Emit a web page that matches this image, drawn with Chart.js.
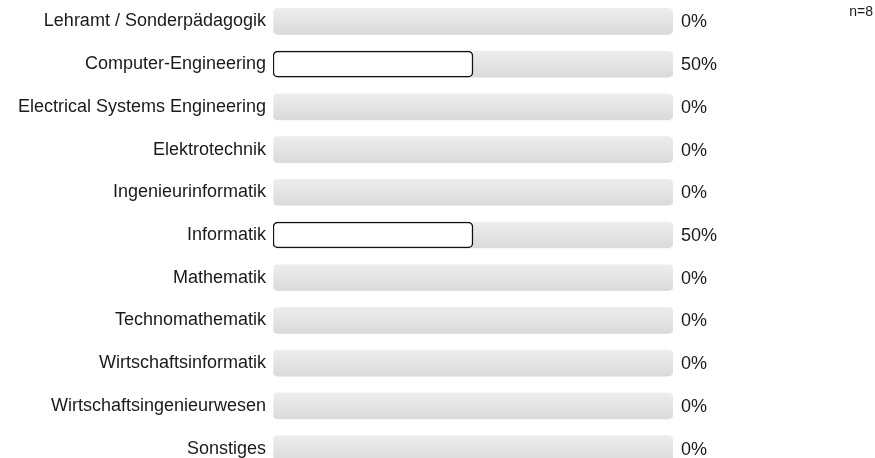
<!DOCTYPE html>
<html>
<head>
<meta charset="utf-8">
<script src="https://cdn.jsdelivr.net/npm/chart.js@4"></script>
<style>
    html, body { margin: 0; padding: 0; background: #fff; overflow: hidden; }
    #wrap { width: 875px; height: 458px; overflow: hidden; }
    #box { position: relative; width: 875px; height: 470px; }
</style>
</head>
<body>
<div id="wrap"><div id="box"><canvas id="chart"></canvas></div></div>
<script>
const categories = [
    'Lehramt / Sonderpädagogik',
    'Computer-Engineering',
    'Electrical Systems Engineering',
    'Elektrotechnik',
    'Ingenieurinformatik',
    'Informatik',
    'Mathematik',
    'Technomathematik',
    'Wirtschaftsinformatik',
    'Wirtschaftsingenieurwesen',
    'Sonstiges'
];
const percentValues = [0, 50, 0, 0, 0, 50, 0, 0, 0, 0, 0];
const trackValues = [100, 100, 100, 100, 100, 100, 100, 100, 100, 100, 100];
const sampleLabel = 'n=8';

const fontFamily = '"Liberation Sans", Arial, Helvetica, sans-serif';

// grey track with a soft vertical gradient
function trackColor(ctx) {
    const chart = ctx.chart;
    const y = chart.scales && chart.scales.y;
    if (!y || ctx.dataIndex === undefined) return '#e3e3e3';
    const mid = y.getPixelForValue(ctx.dataIndex);
    if (!isFinite(mid)) return '#e3e3e3';
    const g = chart.ctx.createLinearGradient(0, mid - 13, 0, mid + 13);
    g.addColorStop(0, '#ededed');
    g.addColorStop(1, '#dadada');
    return g;
}

const valueLabels = {
    id: 'valueLabels',
    afterDatasetsDraw(chart) {
        const ctx = chart.ctx;
        const area = chart.chartArea;
        const y = chart.scales.y;
        ctx.save();
        ctx.fillStyle = '#1a1a1a';
        ctx.font = '18px ' + fontFamily;
        ctx.textAlign = 'left';
        ctx.textBaseline = 'middle';
        percentValues.forEach((v, i) => {
            ctx.fillText(v + '%', area.right + 8, y.getPixelForValue(i) + 1);
        });
        ctx.font = '14px ' + fontFamily;
        ctx.textAlign = 'right';
        ctx.fillText(sampleLabel, 873, 12);
        ctx.restore();
    }
};

new Chart(document.getElementById('chart'), {
    type: 'bar',
    data: {
        labels: categories,
        datasets: [{
            label: 'Anteil',
            data: percentValues,
            backgroundColor: '#ffffff',
            borderColor: '#111111',
            borderWidth: (ctx) => (percentValues[ctx.dataIndex] > 0 ? 1.5 : 0),
            borderRadius: 5,
            borderSkipped: false,
            barThickness: 26,
            grouped: false,
            order: 0
        }, {
            label: 'Track',
            data: trackValues,
            backgroundColor: trackColor,
            borderWidth: 0,
            borderRadius: 5,
            borderSkipped: false,
            barThickness: 26,
            grouped: false,
            order: 1
        }]
    },
    options: {
        indexAxis: 'y',
        responsive: true,
        maintainAspectRatio: false,
        animation: false,
        layout: { padding: { left: 0, right: 202, top: 0, bottom: 0 } },
        plugins: {
            legend: { display: false },
            tooltip: { enabled: false }
        },
        scales: {
            x: { min: 0, max: 100, display: false },
            y: {
                grid: { display: false, drawTicks: false },
                border: { display: false },
                ticks: {
                    color: '#1a1a1a',
                    padding: 7,
                    font: { size: 18, family: fontFamily }
                },
                afterFit(scale) {
                    scale.width = 273;
                    scale.paddingTop = 0;
                    scale.paddingBottom = 0;
                }
            }
        }
    },
    plugins: [valueLabels]
});
</script>
</body>
</html>
